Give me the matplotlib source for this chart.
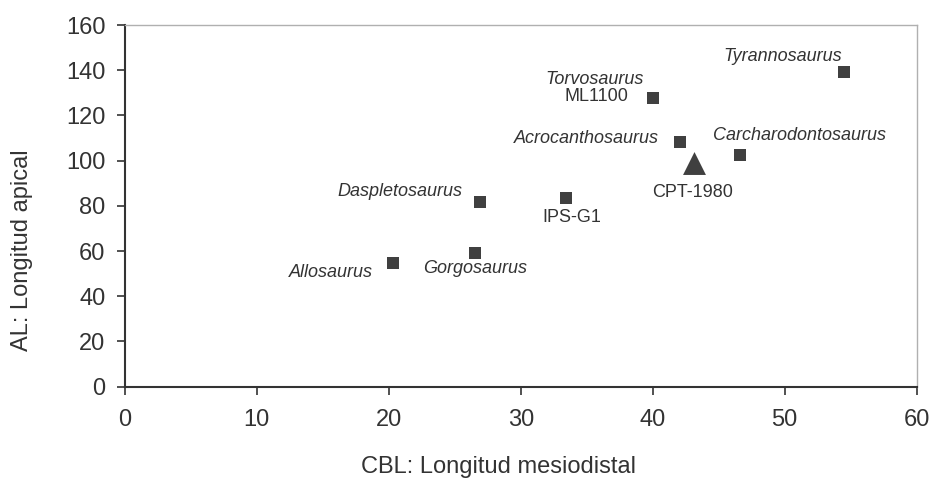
import matplotlib
matplotlib.use("Agg")
import matplotlib.pyplot as plt

plt.rcParams['font.family'] = ['Liberation Sans', 'DejaVu Sans']

# Data
names = ["Allosaurus", "Gorgosaurus", "Daspletosaurus", "IPS-G1", "Torvosaurus",
         "Acrocanthosaurus", "Carcharodontosaurus", "Tyrannosaurus"]
cbl = [20.3, 26.5, 26.9, 33.4, 40.0, 42.1, 46.6, 54.5]
al = [54.7, 59.3, 81.6, 83.4, 127.6, 108.4, 102.6, 139.2]
cpt_name = "CPT-1980"
cpt_cbl = [43.1]
cpt_al = [98.9]
x_ticks = [0, 10, 20, 30, 40, 50, 60]
y_ticks = [0, 20, 40, 60, 80, 100, 120, 140, 160]

# label styling: (text lines, offset px, ha)
label_cfg = {
    "Allosaurus": ([("Allosaurus", "italic", (-20, -9))], "right"),
    "Gorgosaurus": ([("Gorgosaurus", "italic", (1, -16))], "center"),
    "Daspletosaurus": ([("Daspletosaurus", "italic", (-17, 11))], "right"),
    "IPS-G1": ([("IPS-G1", "normal", (6, -19))], "center"),
    "Torvosaurus": ([("Torvosaurus", "italic", (-9, 19)), ("ML1100", "normal", (-24, 2))], "right"),
    "Acrocanthosaurus": ([("Acrocanthosaurus", "italic", (-22, 3))], "right"),
    "Carcharodontosaurus": ([("Carcharodontosaurus", "italic", (60, 19))], "center"),
    "Tyrannosaurus": ([("Tyrannosaurus", "italic", (-2, 16))], "right"),
}

fig = plt.figure(figsize=(9.33, 4.79), dpi=100)
ax = fig.add_axes([0.1337, 0.1927, 0.9825 - 0.1337, 0.9478 - 0.1927])

mcol = "#404040"
tcol = "#333333"
ax.scatter(cbl, al, marker="s", s=74, color=mcol, zorder=3, linewidths=0)
ax.scatter(cpt_cbl, cpt_al, marker="^", s=272, color=mcol, zorder=3, linewidths=0)

for n, x, y in zip(names, cbl, al):
    lines, ha = label_cfg[n]
    for txt, style, off in lines:
        ax.annotate(txt, (x, y), xytext=off, textcoords="offset pixels",
                    ha=ha, va="center", fontsize=13, style=style, color=tcol)
ax.annotate(cpt_name, (cpt_cbl[0], cpt_al[0]), xytext=(-1, -29), textcoords="offset pixels",
            ha="center", va="center", fontsize=13, color=tcol)

ax.set_xlim(0, 60)
ax.set_ylim(0, 160)
ax.set_xticks(x_ticks)
ax.set_yticks(y_ticks)
ax.tick_params(axis="both", labelsize=17, colors=tcol, direction="out", length=6, width=1.2)
ax.tick_params(axis="y", pad=8)
ax.tick_params(axis="x", pad=10)

for s in ["left", "bottom"]:
    ax.spines[s].set_color("#333333")
    ax.spines[s].set_linewidth(1.5)
for s in ["top", "right"]:
    ax.spines[s].set_color("#b0b0b0")
    ax.spines[s].set_linewidth(1.0)

fig.text(0.534, 1 - 467 / 479, "CBL: Longitud mesiodistal", ha="center", va="center",
         fontsize=17, color=tcol)
fig.text(22 / 933, 1 - 250 / 479, "AL: Longitud apical", ha="center", va="center",
         rotation=90, fontsize=17, color=tcol)

fig.savefig("out.png", dpi=100, facecolor="white")
